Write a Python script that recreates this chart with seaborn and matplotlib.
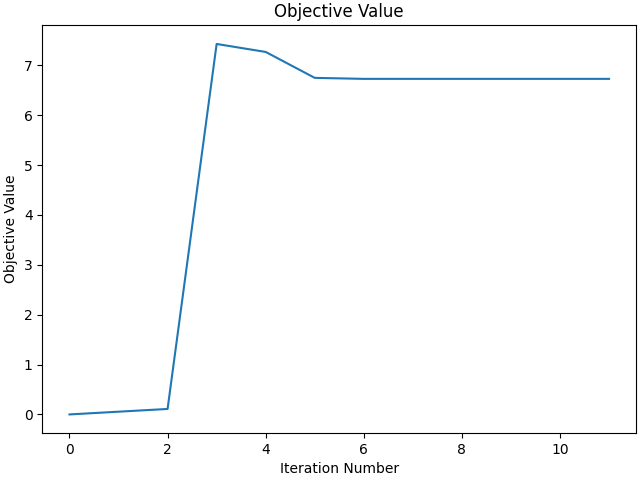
import matplotlib
matplotlib.use("Agg")
import matplotlib.pyplot as plt
import seaborn as sns
import pandas as pd

iterations = list(range(12))
objective = [0.0, 0.055, 0.11, 7.43, 7.27, 6.75, 6.73, 6.73, 6.73, 6.73, 6.73, 6.73]

df = pd.DataFrame({"Iteration Number": iterations, "Objective Value": objective})

fig, ax = plt.subplots(figsize=(6.4, 4.8), dpi=100)
sns.lineplot(data=df, x="Iteration Number", y="Objective Value", ax=ax, color="#1f77b4")
ax.set_title("Objective Value")
ax.set_xlabel("Iteration Number")
ax.set_ylabel("Objective Value")
fig.subplots_adjust(left=0.0664, right=0.9938, bottom=0.098, top=0.947)
fig.savefig("out.png")
